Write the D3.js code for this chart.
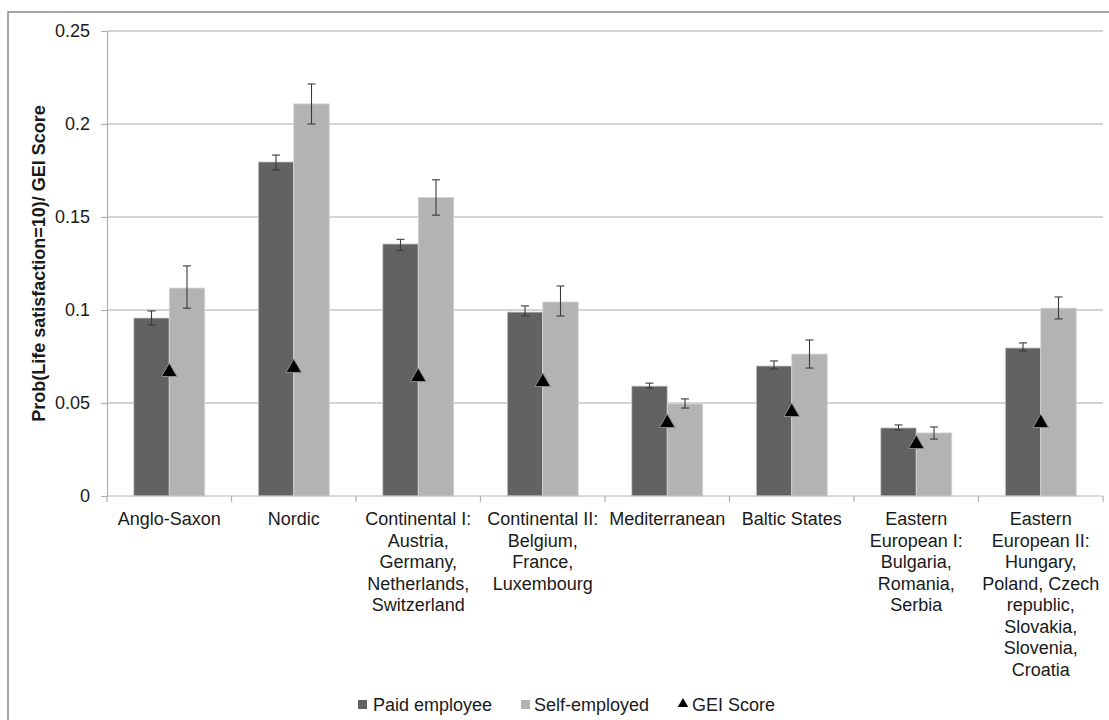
<!DOCTYPE html>
<html>
<head>
<meta charset="utf-8">
<script src="https://cdn.jsdelivr.net/npm/d3@7/dist/d3.min.js"></script>
<style>
  html, body { margin: 0; padding: 0; background: #fff; }
  svg { display: block; font-family: "Liberation Sans", Arial, sans-serif; }
</style>
</head>
<body>
<div id="chart"></div>
<script>
// ---- data ----
const categories = [
  ["Anglo-Saxon"],
  ["Nordic"],
  ["Continental I:", "Austria,", "Germany,", "Netherlands,", "Switzerland"],
  ["Continental II:", "Belgium,", "France,", "Luxembourg"],
  ["Mediterranean"],
  ["Baltic States"],
  ["Eastern", "European I:", "Bulgaria,", "Romania,", "Serbia"],
  ["Eastern", "European II:", "Hungary,", "Poland, Czech", "republic,", "Slovakia,", "Slovenia,", "Croatia"]
];
const seriesNames = ["Paid employee", "Self-employed", "GEI Score"];
const paidEmployee   = [0.0957, 0.1796, 0.1355, 0.0989, 0.0591, 0.0699, 0.0366, 0.0796];
const paidLow        = [0.0920, 0.1753, 0.1320, 0.0968, 0.0580, 0.0683, 0.0355, 0.0780];
const paidHigh       = [0.0995, 0.1833, 0.1380, 0.1022, 0.0607, 0.0726, 0.0382, 0.0823];
const selfEmployed   = [0.1118, 0.2108, 0.1605, 0.1043, 0.0495, 0.0763, 0.0339, 0.1010];
const selfLow        = [0.1010, 0.2000, 0.1510, 0.0968, 0.0473, 0.0688, 0.0306, 0.0952];
const selfHigh       = [0.1237, 0.2215, 0.1700, 0.1129, 0.0522, 0.0839, 0.0371, 0.1070];
const geiScore       = [0.0672, 0.0694, 0.0645, 0.0618, 0.0398, 0.0457, 0.0285, 0.0398];
const yTicks = [0, 0.05, 0.1, 0.15, 0.2, 0.25];
const yTickLabels = ["0", "0.05", "0.1", "0.15", "0.2", "0.25"];
const yTitle = "Prob(Life satisfaction=10)/ GEI Score";

// ---- layout ----
const W = 1109, H = 720;
const plot = { left: 107, right: 1103, top: 31, bottom: 496 };
const colors = { paid: "#626262", self: "#b3b3b3" };
const fontSize = 18;

const svg = d3.select("#chart").append("svg").attr("width", W).attr("height", H);

// outer border (chart area)
svg.append("rect").attr("x", 8).attr("y", 12).attr("width", W + 20).attr("height", H + 20)
  .attr("fill", "none").attr("stroke", "#8a8a8a").attr("stroke-width", 1.5);

const catIdx = categories.map((d, i) => i);
const x0 = d3.scaleBand().domain(catIdx).range([plot.left, plot.right]).padding(0);
const x1 = d3.scaleBand().domain([0, 1]).range([0, x0.bandwidth()]).paddingInner(0).paddingOuter(0.754);
const y = d3.scaleLinear().domain([0, 0.25]).range([plot.bottom, plot.top]);

// gridlines
svg.append("g").selectAll("line").data(yTicks.filter(t => t > 0)).join("line")
  .attr("x1", plot.left).attr("x2", plot.right)
  .attr("y1", d => y(d)).attr("y2", d => y(d))
  .attr("stroke", "#c6c6c6").attr("stroke-width", 1.5);

// y axis
const yAxis = svg.append("g").attr("transform", `translate(${plot.left},0)`)
  .call(d3.axisLeft(y).tickValues(yTicks).tickFormat((d, i) => yTickLabels[i]).tickSize(6).tickPadding(11));
yAxis.select(".domain").attr("stroke", "#b0b0b0").attr("stroke-width", 1.2);
yAxis.selectAll(".tick line").attr("stroke", "#b0b0b0").attr("stroke-width", 1.2);
yAxis.selectAll(".tick text").attr("font-size", fontSize).attr("fill", "#1a1a1a")
  .attr("font-family", "Liberation Sans, Arial, sans-serif");

// y title
svg.append("text")
  .attr("transform", `translate(45,${(plot.top + plot.bottom) / 2}) rotate(-90)`)
  .attr("text-anchor", "middle").attr("font-weight", "bold").attr("font-size", fontSize)
  .attr("fill", "#1a1a1a").text(yTitle);

// bars
const barData = [];
catIdx.forEach(i => {
  barData.push({ c: i, s: 0, v: paidEmployee[i], lo: paidLow[i], hi: paidHigh[i], col: colors.paid });
  barData.push({ c: i, s: 1, v: selfEmployed[i], lo: selfLow[i], hi: selfHigh[i], col: colors.self });
});
svg.append("g").selectAll("rect").data(barData).join("rect")
  .attr("x", d => x0(d.c) + x1(d.s))
  .attr("width", x1.bandwidth())
  .attr("y", d => y(d.v))
  .attr("height", d => y(0) - y(d.v))
  .attr("fill", d => d.col)
  .attr("stroke", "#d4d4d4").attr("stroke-width", 0.8);

// x axis line and boundary ticks
const xAxisG = svg.append("g");
xAxisG.append("line").attr("x1", plot.left).attr("x2", plot.right)
  .attr("y1", y(0)).attr("y2", y(0)).attr("stroke", "#b8b8b8").attr("stroke-width", 1.2);
const bounds = catIdx.map(i => x0(i)).concat([x0(catIdx.length - 1) + x0.bandwidth()]);
xAxisG.selectAll("line.tk").data(bounds).join("line").attr("class", "tk")
  .attr("x1", d => d).attr("x2", d => d)
  .attr("y1", y(0)).attr("y2", y(0) + 6)
  .attr("stroke", "#b0b0b0").attr("stroke-width", 1.2);

// error bars
const eb = svg.append("g").attr("stroke", "#3a3a3a").attr("stroke-width", 1.1);
barData.forEach(d => {
  const cx = x0(d.c) + x1(d.s) + x1.bandwidth() / 2;
  eb.append("line").attr("x1", cx).attr("x2", cx).attr("y1", y(d.lo)).attr("y2", y(d.hi));
  eb.append("line").attr("x1", cx - 4).attr("x2", cx + 4).attr("y1", y(d.lo)).attr("y2", y(d.lo));
  eb.append("line").attr("x1", cx - 4).attr("x2", cx + 4).attr("y1", y(d.hi)).attr("y2", y(d.hi));
});

// GEI triangles
const tri = d3.symbol().type(d3.symbolTriangle).size(105);
svg.append("g").selectAll("path").data(geiScore).join("path")
  .attr("d", tri)
  .attr("transform", (d, i) => `translate(${x0(i) + x0.bandwidth() / 2},${y(d) + 1})`)
  .attr("fill", "#000").attr("stroke", "#8c8c8c").attr("stroke-width", 1);

// category labels
const lab = svg.append("g").attr("font-size", fontSize).attr("fill", "#1a1a1a").attr("text-anchor", "middle");
categories.forEach((lines, i) => {
  const t = lab.append("text").attr("x", x0(i) + x0.bandwidth() / 2).attr("y", 525);
  lines.forEach((ln, j) => {
    t.append("tspan").attr("x", x0(i) + x0.bandwidth() / 2).attr("y", 525 + j * 21.5).text(ln);
  });
});

// legend
const leg = svg.append("g").attr("font-size", fontSize).attr("fill", "#1a1a1a");
const legY = 711;
leg.append("rect").attr("x", 358).attr("y", legY - 11).attr("width", 9).attr("height", 9).attr("fill", colors.paid);
leg.append("text").attr("x", 373).attr("y", legY).text(seriesNames[0]);
leg.append("rect").attr("x", 521).attr("y", legY - 11).attr("width", 9).attr("height", 9).attr("fill", colors.self);
leg.append("text").attr("x", 534).attr("y", legY).text(seriesNames[1]);
leg.append("path").attr("d", d3.symbol().type(d3.symbolTriangle).size(48))
  .attr("transform", `translate(683,${legY - 7})`).attr("fill", "#000");
leg.append("text").attr("x", 692).attr("y", legY).text(seriesNames[2]);
</script>
</body>
</html>
